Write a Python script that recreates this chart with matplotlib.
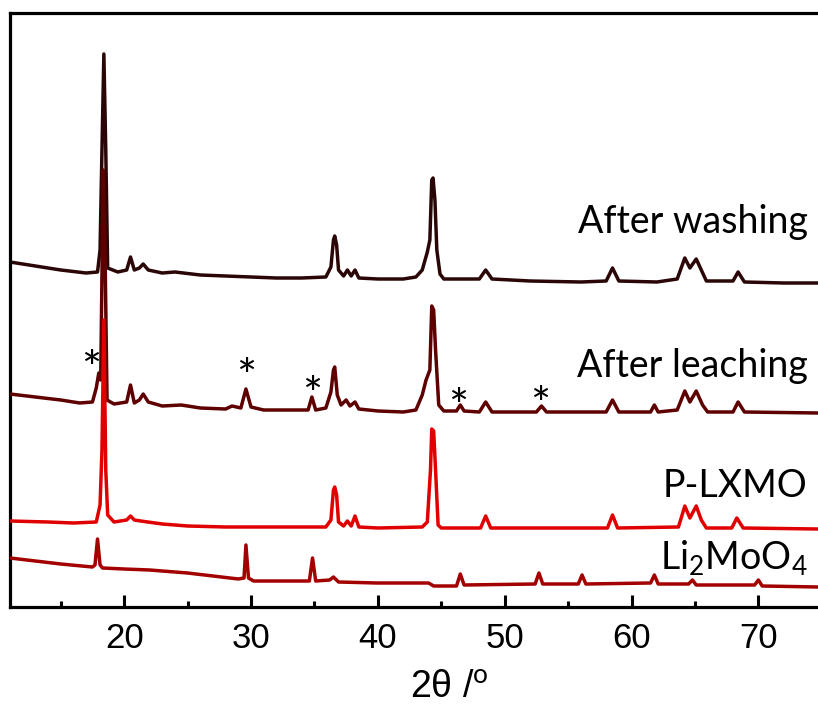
import matplotlib
matplotlib.use("Agg")
import matplotlib.pyplot as plt
import matplotlib.transforms as mtransforms
import numpy as np

plt.rcParams['mathtext.fontset'] = 'custom'
plt.rcParams['mathtext.rm'] = 'Lato'
plt.rcParams['mathtext.it'] = 'Lato:italic'

# ---------------- data (2theta in degrees, intensity in a.u. incl. stacking offset) -------------
washing_x = [11, 13, 15, 17, 17.9, 18.1, 18.25, 18.4, 18.55, 18.7, 19.5, 20.2, 20.5, 20.8, 21.2, 21.5,
             21.9, 23, 24, 26, 28, 30, 32, 34, 35.9, 36.3, 36.5, 36.6, 36.75, 36.9, 37.3, 37.6, 37.9,
             38.2, 38.5, 40, 42, 43.0, 43.5, 43.9, 44.1, 44.25, 44.35, 44.5, 44.65, 44.9, 45.2, 48.0,
             48.5, 49.0, 52, 56, 58.0, 58.5, 59.0, 62, 63.6, 64.2, 64.6, 65.1, 65.5, 65.9, 68.0, 68.4,
             68.9, 72, 74.7]
washing_y = [345, 341, 337, 334, 335, 357, 457, 553, 457, 339, 335, 337, 350, 337, 339, 343,
             337, 334, 335, 332, 331, 330, 329, 329, 330, 340, 367, 371, 362, 337, 331, 337, 331,
             337, 329, 328, 328, 330, 337, 355, 367, 427, 429, 407, 357, 333, 328, 328,
             337, 328, 326, 325, 326, 339, 326, 325, 328, 349, 339, 348, 337, 326, 326, 335,
             325, 324, 324]

leaching_x = [11, 13, 15, 16.5, 17.5, 17.8, 18.0, 18.15, 18.35, 18.5, 18.65, 19.2, 20.2, 20.5, 20.8,
              21.2, 21.5, 21.9, 23, 24.5, 26, 28, 28.5, 29.2, 29.6, 30.0, 31, 33, 34.5, 34.8, 35.1,
              35.9, 36.3, 36.5, 36.6, 36.8, 37.1, 37.5, 37.8, 38.2, 38.5, 40, 42, 43.0, 43.5, 43.8,
              44.1, 44.25, 44.4, 44.55, 44.8, 45.2, 46.2, 46.5, 46.8, 48.0, 48.5, 49.0, 52.5, 52.9,
              53.3, 58.0, 58.5, 59.0, 61.5, 61.8, 62.1, 63.6, 64.2, 64.6, 65.1, 65.6, 66.0, 68.0,
              68.4, 68.9, 74.7]
leaching_y = [213, 210, 207, 204, 205, 219, 234, 227, 437, 347, 207, 203, 205, 222, 204,
              207, 213, 205, 201, 202, 199, 198, 201, 199, 218, 200, 197, 197, 197, 210, 197,
              199, 215, 237, 240, 212, 202, 207, 201, 205, 198, 196, 195, 197, 212, 227,
              237, 301, 297, 257, 202, 196, 196, 202, 196, 195, 205, 195, 195, 201,
              195, 195, 207, 195, 195, 202, 195, 197, 216, 205, 216, 202, 195, 195,
              205, 195, 194]

plxmo_x = [11, 14, 16, 17.8, 18.1, 18.25, 18.4, 18.55, 18.7, 19.2, 20.2, 20.5, 20.8, 21.3, 23, 25,
           28, 33, 35.9, 36.3, 36.5, 36.6, 36.75, 36.9, 37.3, 37.6, 37.9, 38.2, 38.5, 40, 43.5,
           43.9, 44.15, 44.25, 44.4, 44.55, 44.75, 45, 48.1, 48.5, 48.9, 58.1, 58.5, 58.9, 63.7,
           64.2, 64.6, 65.1, 65.5, 65.9, 67.9, 68.3, 68.8, 74.7]
plxmo_y = [86, 85, 84, 85, 102, 157, 287, 137, 92, 85, 87, 91, 87, 86, 83, 81,
           80, 80, 80, 87, 117, 120, 112, 85, 81, 86, 81, 91, 80, 79, 80,
           85, 137, 178, 176, 137, 82, 79, 79, 91, 79, 79, 92, 79, 80,
           101, 89, 101, 87, 79, 79, 89, 79, 78]

limoo_x = [11, 13, 15, 17.5, 17.7, 17.9, 18.1, 18.3, 20, 22, 25, 27, 29, 29.45, 29.6, 29.8, 30.2,
           33, 34.6, 34.85, 35.1, 36.2, 36.5, 36.9, 39.9, 44, 44.4, 46.2, 46.5, 46.8, 52.4, 52.7,
           53.0, 55.8, 56.1, 56.4, 61.5, 61.8, 62.1, 64.5, 64.8, 65.1, 69.7, 70.0, 70.3, 74.7]
limoo_y = [49, 46, 43, 40, 42, 68, 42, 39, 38, 37, 34, 31, 28, 29, 62, 29, 26,
           26, 26, 49, 26, 27, 30, 25, 24, 24, 21, 21, 33, 22, 23, 34,
           23, 23, 32, 23, 24, 32, 23, 23, 27, 22, 22, 27, 21, 20]

series_names = ["After washing", "After leaching", "P-LXMO", "Li$_2$MoO$_4$"]
series_colors = ["#2a0606", "#5e0000", "#e00000", "#a30000"]
label_y = [374, 230, 110, 38]

star_x = [17.4, 29.6, 34.8, 46.3, 52.8]
star_y = [249, 241, 223, 210, 212]

xticks_major = [20, 30, 40, 50, 60, 70]
xticks_minor = [15, 25, 35, 45, 55, 65]

# ---------------- figure -------------
fig = plt.figure(figsize=(8.18, 7.07), dpi=100)
ax = fig.add_axes([10/818, 1 - 607/707, 1 - 10/818, (607 - 13)/707])

xs = [washing_x, leaching_x, plxmo_x, limoo_x]
ys = [washing_y, leaching_y, plxmo_y, limoo_y]
for i, (x, y) in enumerate(zip(xs, ys)):
    ax.plot(x, y, color=series_colors[i], lw=2.5, zorder=2 + i, solid_joinstyle='round')

for name, yy in zip(series_names, label_y):
    ax.text(73.9, yy, name, ha='right', va='baseline', fontsize=27,
            family=['Lato', 'DejaVu Sans'], color='black', zorder=10)

star_tr = mtransforms.offset_copy(ax.transData, fig=fig, y=-9, units='points')
for sx, sy in zip(star_x, star_y):
    ax.text(sx, sy, '*', ha='center', va='center', fontsize=34, transform=star_tr,
            family=['Lato', 'DejaVu Sans'], color='black', zorder=10)

ax.set_xlim(11, 74.7)
ax.set_ylim(0, 594)
ax.set_xticks(xticks_major)
ax.set_xticks(xticks_minor, minor=True)
ax.set_yticks([])
ax.tick_params(axis='x', which='major', direction='in', length=9, width=2.2, pad=11,
               labelsize=25)
ax.tick_params(axis='x', which='minor', direction='in', length=4.5, width=2.2)
for lbl in ax.get_xticklabels():
    lbl.set_family(['Liberation Sans', 'DejaVu Sans'])
ax.spines['right'].set_visible(False)
for s in ['left', 'top', 'bottom']:
    ax.spines[s].set_linewidth(2.3)

fig.text(410/818, 10/707, '2θ /$^{\\rm o}$', ha='left', va='baseline', fontsize=27,
         family=['Liberation Sans', 'DejaVu Sans'])

fig.savefig('out.png', dpi=100)
